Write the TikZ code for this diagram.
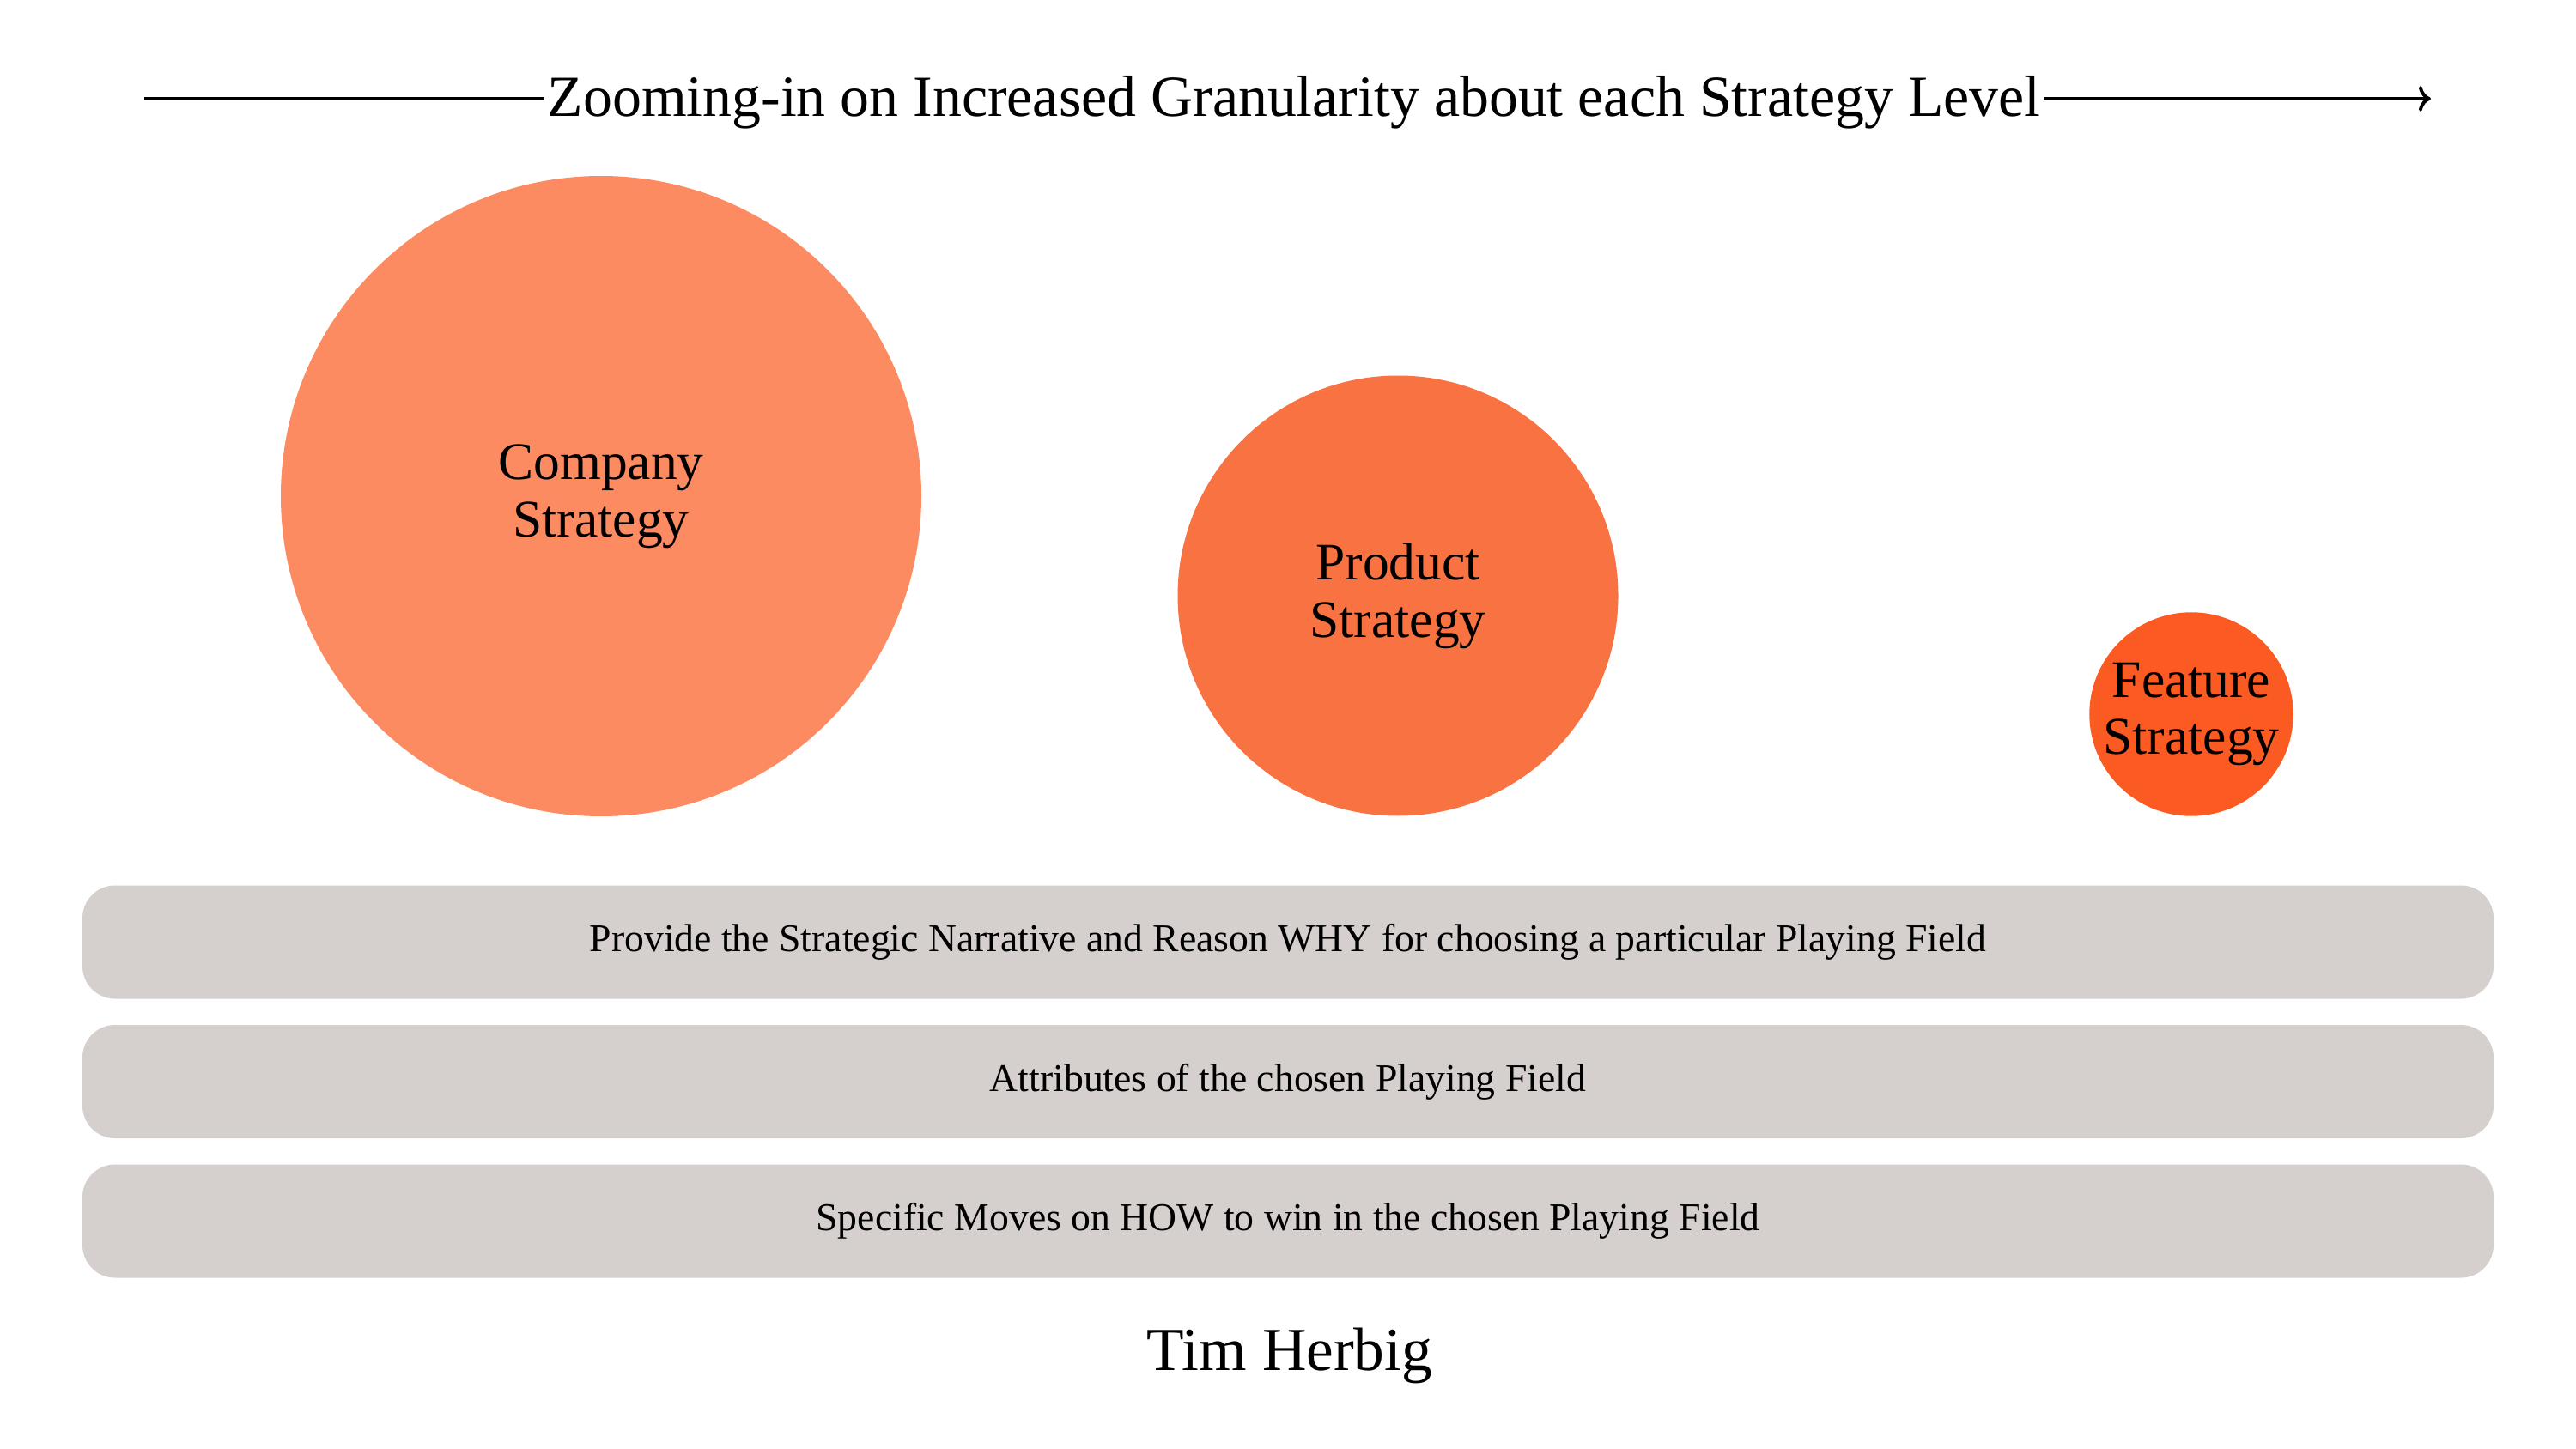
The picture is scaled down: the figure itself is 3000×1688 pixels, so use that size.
\documentclass[tikz,border=0pt]{standalone}
\usepackage{fontspec}
\setmainfont{Liberation Serif}
\usetikzlibrary{positioning, arrows.meta}
\definecolor{companycol}{HTML}{FC8B62}
\definecolor{productcol}{HTML}{F97242}
\definecolor{featurecol}{HTML}{FB5A22}
\definecolor{barcol}{HTML}{D5D0CE}

\begin{document}
\begin{tikzpicture}[x=0.1mm,y=-0.1mm,>=To,
	level/.style={
		circle,
		align=center,
		inner sep=0pt,
		font=\fontsize{17.5}{19}\selectfont,
	},
	bar/.style={
		fill=barcol,
		rounded corners=3.8mm,
		minimum width=280.8mm,
		minimum height=13.2mm,
		text height=0.87em,
		text depth=0.22em,
		font=\fontsize{13}{15}\selectfont,
	},
]
	\useasboundingbox[fill=white] (0,0) rectangle (3000,1688);
	% zoom arrow
	\node[inner sep=1pt, font=\fontsize{19.3}{21}\selectfont] (title) at (1507,119)
		{Zooming-in on Increased Granularity about each Strategy Level};
	\coordinate (zstart) at (168,115);
	\coordinate (zend) at (2831,115);
	\draw[line width=1.1pt] (zstart) -- (zstart -| title.west);
	\draw[line width=1.1pt,->] (zend -| title.east) -- (zend);
	% strategy levels
	\node[level, fill=companycol, minimum size=74.6mm] (company) at (700,578) {Company\\Strategy};
	\node[level, fill=productcol, minimum size=51.3mm] (product) at (1628,694) {Product\\Strategy};
	\node[level, fill=featurecol, minimum size=23.7mm] (feature) at (2552,832) {Feature\\Strategy};
	% bars
	\foreach \t [count=\i] in {
		{Provide the Strategic Narrative and Reason WHY for choosing a particular Playing Field},
		{Attributes of the chosen Playing Field},
		{Specific Moves on HOW to win in the chosen Playing Field}}{
		\node[bar] (bar-\i) at (1500,{935+162.5*\i}) {\t};
	}
	\node[font=\fontsize{20.3}{22}\selectfont] (author) at (1502,1579) {Tim Herbig};
\end{tikzpicture}
\end{document}
